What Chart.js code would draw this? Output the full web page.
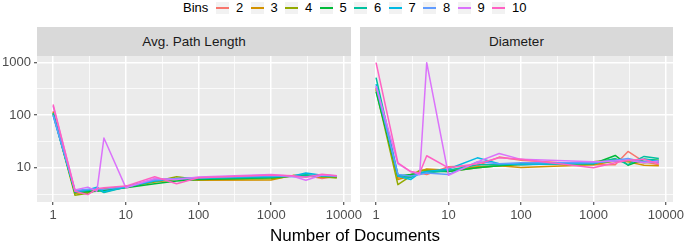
<!DOCTYPE html>
<html><head><meta charset="utf-8">
<script src="https://cdn.jsdelivr.net/npm/chart.js@4"></script>
<style>
html,body{margin:0;padding:0;background:#fff;overflow:hidden;width:685px;height:243px;font-family:"Liberation Sans",Arial,Helvetica,sans-serif}
#wrap{position:relative;width:685px;height:243px;overflow:hidden}
canvas{position:absolute}
.strip{position:absolute;top:27px;height:29px;background:#D9D9D9;color:#1A1A1A;font-size:13.5px;line-height:29px;text-align:center;white-space:nowrap}
.lg{position:absolute;top:1px;font-size:13px;line-height:13px;color:#000;white-space:nowrap}
.key{position:absolute;top:2px;width:13px;height:12px;background:#F2F2F2}
.key i{position:absolute;left:0;right:0;top:5px;height:1.6px;display:block}
#xtitle{position:absolute;left:37px;width:636px;top:227px;font-size:17px;line-height:17px;text-align:center;color:#000;white-space:nowrap}
</style></head>
<body><div id="wrap">
<div class="strip" style="left:37px;width:314px">Avg. Path Length</div>
<div class="strip" style="left:360px;width:313px">Diameter</div>
<canvas id="c1" width="372" height="187" style="left:0px;top:56px"></canvas>
<canvas id="c2" width="330" height="187" style="left:355px;top:56px"></canvas>
<div id="xtitle">Number of Documents</div>
<div id="legend"></div>
</div>
<script>
// ---- data ----
const xDocs = [1, 2, 3, 4, 5, 10, 25, 50, 100, 1000, 2000, 3000, 5000, 8000];
const bins = ['2', '3', '4', '5', '6', '7', '8', '9', '10'];
const binColors = ['#F8766D', '#D39200', '#93AA00', '#00BA38', '#00C19F', '#00B9E3', '#619CFF', '#DB72FB', '#FF61C3'];
const xTickValues = [1, 10, 100, 1000, 10000];
const xTickLabels = ['1', '10', '100', '1000', '10000'];
const yTickValues = [10, 100, 1000];
const yTickLabels = ['10', '100', '1000'];
const panelTitles = ['Avg. Path Length', 'Diameter'];

// Avg. Path Length per bin
const apl2  = [120, 3.5, 3.6, 3.8, 4.0, 4.4, 6.0, 6.2, 6.3, 6.8, 7.0, 7.2, 6.3, 6.9];
const apl3  = [115, 3.3, 3.4, 3.7, 3.9, 4.3, 5.4, 6.0, 5.8, 5.9, 7.2, 7.0, 6.6, 6.6];
const apl4  = [110, 3.0, 3.3, 3.8, 3.8, 4.4, 5.5, 6.8, 6.0, 6.2, 7.0, 7.0, 6.8, 6.4];
const apl5  = [105, 3.4, 3.5, 3.6, 3.7, 4.2, 5.0, 5.6, 6.0, 6.5, 7.0, 7.2, 7.0, 6.8];
const apl6  = [110, 3.6, 3.7, 4.0, 3.4, 4.3, 5.6, 6.1, 6.3, 6.6, 7.1, 7.4, 6.9, 7.0];
const apl7  = [100, 3.5, 3.8, 4.3, 3.5, 4.3, 5.7, 6.2, 6.4, 6.9, 7.0, 8.0, 7.2, 7.0];
const apl8  = [100, 3.7, 3.9, 4.0, 3.9, 4.4, 5.9, 6.3, 6.5, 7.1, 6.8, 6.8, 7.2, 7.1];
const apl9  = [150, 3.8, 4.3, 3.6, 37, 4.2, 6.3, 6.0, 6.7, 7.5, 6.9, 5.8, 7.3, 7.0];
const apl10 = [160, 3.6, 3.1, 4.0, 4.2, 4.5, 6.8, 5.0, 6.5, 7.3, 7.1, 6.6, 7.6, 7.1];

// Diameter per bin
const dia2  = [330, 6.5, 7.5, 8.0, 7.5, 10.5, 11.0, 16.0, 14.0, 11.5, 11.5, 20.5, 13.0, 11.5];
const dia3  = [320, 6.0, 7.0, 8.5, 9.5, 9.0, 10.5, 11.0, 10.2, 11.5, 13.5, 13.0, 11.2, 11.0];
const dia4  = [300, 4.8, 7.0, 9.0, 9.0, 8.5, 10.0, 11.0, 11.5, 13.0, 14.5, 13.5, 12.5, 13.0];
const dia5  = [280, 7.0, 7.5, 8.0, 8.5, 8.5, 10.0, 11.0, 11.8, 12.0, 17.2, 11.2, 14.5, 14.0];
const dia6  = [520, 7.5, 6.5, 8.0, 8.0, 9.0, 11.5, 11.5, 12.0, 12.0, 15.0, 11.5, 16.5, 15.0];
const dia7  = [390, 7.0, 6.0, 8.0, 8.5, 9.5, 15.5, 12.0, 11.5, 12.5, 13.5, 14.0, 14.5, 13.5];
const dia8  = [350, 7.5, 7.0, 7.5, 8.0, 7.5, 13.0, 12.0, 12.5, 12.5, 14.0, 15.0, 13.0, 12.5];
const dia9  = [360, 12.0, 8.5, 7.5, 1000, 7.2, 13.0, 18.8, 14.5, 13.0, 13.5, 14.0, 12.5, 13.5];
const dia10 = [1000, 12.5, 8.5, 8.0, 17.0, 10.0, 12.0, 15.5, 14.5, 10.0, 12.5, 14.0, 14.5, 12.0];

const aplSeries = [apl2, apl3, apl4, apl5, apl6, apl7, apl8, apl9, apl10];
const diaSeries = [dia2, dia3, dia4, dia5, dia6, dia7, dia8, dia9, dia10];

// ---- scale limits (ggplot-like 5% expansion in log space) ----
const lg = Math.log10;
const allY = aplSeries.concat(diaSeries).flat();
const yLo = lg(Math.min(...allY)), yHi = lg(Math.max(...allY));
const xLo = lg(Math.min(...xDocs)), xHi = lg(Math.max(...xDocs));
const yMin = Math.pow(10, yLo - 0.05 * (yHi - yLo)), yMax = Math.pow(10, yHi + 0.05 * (yHi - yLo));
const xMin = Math.pow(10, xLo - 0.05 * (xHi - xLo)), xMax = Math.pow(10, xHi + 0.05 * (xHi - xLo));

function gridVals(majors, lo, hi) {
  const out = [];
  majors.forEach(m => { out.push(m / Math.sqrt(10)); out.push(m); out.push(m * Math.sqrt(10)); });
  return [...new Set(out.map(v => +v.toPrecision(10)))].filter(v => v >= lo && v <= hi).sort((a, b) => a - b);
}
const xGrid = gridVals(xTickValues, xMin, xMax);
const yGrid = gridVals(yTickValues, yMin, yMax);

function labelOf(values, labels, v) {
  const i = values.findIndex(t => Math.abs(t - v) / t < 1e-6);
  return i >= 0 ? labels[i] : '';
}
function isMajor(values, v) { return v != null && values.some(t => Math.abs(t - v) / t < 1e-6); }

Chart.defaults.font.family = '"Liberation Sans", Arial, Helvetica, sans-serif';

const panelBg = {
  id: 'panelBg',
  beforeDraw(chart) {
    const { ctx, chartArea: a } = chart;
    ctx.save();
    ctx.fillStyle = '#EBEBEB';
    ctx.fillRect(a.left, a.top, a.right - a.left, a.bottom - a.top);
    ctx.restore();
  }
};

function gridOpts(values, ticks) {
  return {
    color: '#FFFFFF',
    lineWidth: c => isMajor(values, c.tick && c.tick.value) ? 1.5 : 0.75,
    drawTicks: ticks,
    tickLength: 3,
    tickColor: c => isMajor(values, c.tick && c.tick.value) ? '#333333' : 'rgba(0,0,0,0)',
    tickWidth: 1
  };
}

function makeChart(id, series, showY, yWidth, padRight) {
  const datasets = series.map((vals, i) => ({
    label: bins[i],
    data: xDocs.map((x, j) => ({ x: x, y: vals[j] })),
    borderColor: binColors[i],
    backgroundColor: binColors[i],
    borderWidth: 1.5,
    borderJoinStyle: 'round',
    borderCapStyle: 'butt',
    pointRadius: 0,
    tension: 0,
    fill: false,
    order: series.length - 1 - i
  }));
  return new Chart(document.getElementById(id), {
    type: 'line',
    data: { datasets },
    plugins: [panelBg],
    options: {
      responsive: false,
      animation: false,
      devicePixelRatio: 1,
      layout: { padding: { left: 0, right: padRight, top: 0, bottom: 0 } },
      plugins: { legend: { display: false }, tooltip: { enabled: false }, title: { display: false } },
      scales: {
        x: {
          type: 'logarithmic', min: xMin, max: xMax, position: 'bottom',
          afterBuildTicks: s => { s.ticks = xGrid.map(v => ({ value: v })); },
          afterFit: s => { s.paddingLeft = 0; s.paddingRight = 0; s.height = 41; },
          border: { display: false },
          grid: gridOpts(xTickValues, true),
          ticks: {
            autoSkip: false, maxRotation: 0, minRotation: 0, padding: 3,
            color: '#4D4D4D', font: { size: 13 },
            callback: v => labelOf(xTickValues, xTickLabels, v)
          }
        },
        y: {
          type: 'logarithmic', min: yMin, max: yMax, position: 'left',
          afterBuildTicks: s => { s.ticks = yGrid.map(v => ({ value: v })); },
          afterFit: s => { s.width = yWidth; s.paddingTop = 0; s.paddingBottom = 0; },
          border: { display: false },
          grid: gridOpts(yTickValues, showY),
          ticks: {
            display: showY, autoSkip: false, padding: 3,
            color: '#4D4D4D', font: { size: 13 },
            callback: v => labelOf(yTickValues, yTickLabels, v)
          }
        }
      }
    }
  });
}

makeChart('c1', aplSeries, true, 37, 21);
makeChart('c2', diaSeries, false, 5, 12);

// ---- legend ----
const legend = document.getElementById('legend');
const t = document.createElement('div');
t.className = 'lg'; t.style.left = '183px'; t.textContent = 'Bins';
legend.appendChild(t);
bins.forEach((b, i) => {
  const left = 216 + 34.5 * i;
  const k = document.createElement('div');
  k.className = 'key'; k.style.left = left + 'px';
  const ln = document.createElement('i'); ln.style.background = binColors[i];
  k.appendChild(ln); legend.appendChild(k);
  const l = document.createElement('div');
  l.className = 'lg'; l.style.left = (left + 20) + 'px'; l.textContent = b;
  legend.appendChild(l);
});
</script>
</body></html>
